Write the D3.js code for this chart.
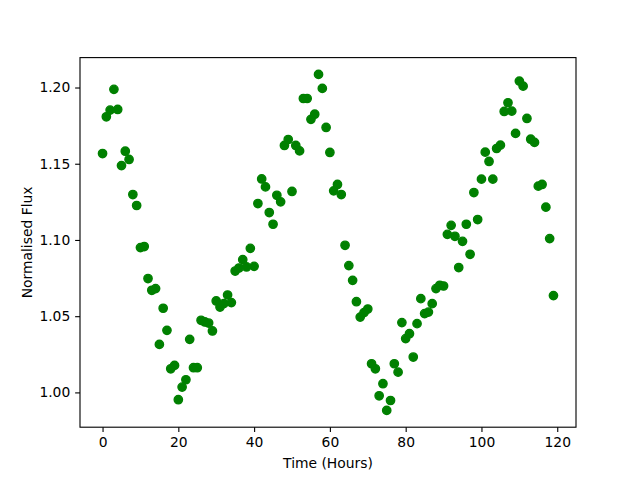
<!DOCTYPE html>
<html>
<head>
<meta charset="utf-8">
<script src="https://cdn.jsdelivr.net/npm/d3@7"></script>
<style>
  html, body { margin: 0; padding: 0; background: #fff; }
  svg { display: block; }
  text { font-family: "DejaVu Sans", sans-serif; }
</style>
</head>
<body>
<svg id="chart" width="640" height="480"></svg>
<script>
const hours = d3.range(0, 120);
const flux = [
  1.1567, 1.1808, 1.1852, 1.1988, 1.1856, 1.1488, 1.1582, 1.1528, 1.1298, 1.1226,
  1.0950, 1.0957, 1.0747, 1.0670, 1.0681, 1.0315, 1.0552, 1.0407, 1.0155, 1.0177,
  0.9952, 1.0035, 1.0083, 1.0348, 1.0162, 1.0162, 1.0473, 1.0462, 1.0455, 1.0403,
  1.0600, 1.0560, 1.0582, 1.0639, 1.0589, 1.0796, 1.0816, 1.0871, 1.0823, 1.0945,
  1.0827, 1.1239, 1.1400, 1.1348, 1.1180, 1.1103, 1.1293, 1.1250, 1.1620, 1.1659,
  1.1318, 1.1620, 1.1584, 1.1928, 1.1928, 1.1791, 1.1825, 1.2086, 1.1994, 1.1738,
  1.1574, 1.1322, 1.1364, 1.1298, 1.0965, 1.0832, 1.0735, 1.0595, 1.0494, 1.0523,
  1.0547, 1.0188, 1.0155, 0.9978, 1.0057, 0.9882, 0.9947, 1.0188, 1.0133, 1.0458,
  1.0353, 1.0385, 1.0232, 1.0451, 1.0615, 1.0517, 1.0527, 1.0582, 1.0681, 1.0703,
  1.0698, 1.1037, 1.1096, 1.1024, 1.0819, 1.0991, 1.1103, 1.0906, 1.1311, 1.1134,
  1.1399, 1.1576, 1.1515, 1.1399, 1.1600, 1.1622, 1.1843, 1.1900, 1.1845, 1.1699,
  1.2042, 1.2009, 1.1797, 1.1661, 1.1640, 1.1353, 1.1364, 1.1215, 1.1009, 1.0635
];
const xTicks = [0, 20, 40, 60, 80, 100, 120];
const yTicks = [1.00, 1.05, 1.10, 1.15, 1.20];
const xLabel = "Time (Hours)";
const yLabel = "Normalised Flux";

const plotL = 80, plotR = 576, plotT = 57.6, plotB = 427.2;
const pt = 100 / 72;

const svg = d3.select("#chart");

function padded(ext) {
  const m = (ext[1] - ext[0]) * 0.05;
  return [ext[0] - m, ext[1] + m];
}
const x = d3.scaleLinear().domain(padded(d3.extent(hours))).range([plotL, plotR]);
const y = d3.scaleLinear().domain(padded(d3.extent(flux))).range([plotB, plotT]);

const data = hours.map((h, i) => ({ h, f: flux[i] }));

svg.append("g")
  .selectAll("circle")
  .data(data)
  .join("circle")
  .attr("cx", d => x(d.h))
  .attr("cy", d => y(d.f))
  .attr("r", 3 * pt)
  .attr("fill", "#008000")
  .attr("stroke", "#008000")
  .attr("stroke-width", 1 * pt);

const tickLen = 3.5 * pt, tickPad = 3.5 * pt;
const fs = 10 * pt;

const xAxis = svg.append("g")
  .attr("transform", `translate(0,${plotB})`)
  .call(d3.axisBottom(x).tickValues(xTicks).tickFormat(d3.format("d"))
    .tickSize(tickLen).tickPadding(tickPad));
const yAxis = svg.append("g")
  .attr("transform", `translate(${plotL},0)`)
  .call(d3.axisLeft(y).tickValues(yTicks).tickFormat(d3.format(".2f"))
    .tickSize(tickLen).tickPadding(tickPad));

[xAxis, yAxis].forEach(g => {
  g.select(".domain").remove();
  g.selectAll(".tick line").attr("stroke", "#000").attr("stroke-width", 0.8 * pt);
  g.selectAll(".tick text").attr("fill", "#000")
    .style("font-family", "'DejaVu Sans', sans-serif").style("font-size", fs + "px");
});

svg.append("rect")
  .attr("x", plotL).attr("y", plotT)
  .attr("width", plotR - plotL).attr("height", plotB - plotT)
  .attr("fill", "none").attr("stroke", "#000").attr("stroke-width", 0.8 * pt);

svg.append("text")
  .attr("x", (plotL + plotR) / 2).attr("y", 468)
  .attr("text-anchor", "middle")
  .style("font-size", fs + "px").attr("fill", "#000")
  .text(xLabel);

svg.append("text")
  .attr("transform", `translate(31.5,${(plotT + plotB) / 2}) rotate(-90)`)
  .attr("text-anchor", "middle")
  .style("font-size", fs + "px").attr("fill", "#000")
  .text(yLabel);
</script>
</body>
</html>
